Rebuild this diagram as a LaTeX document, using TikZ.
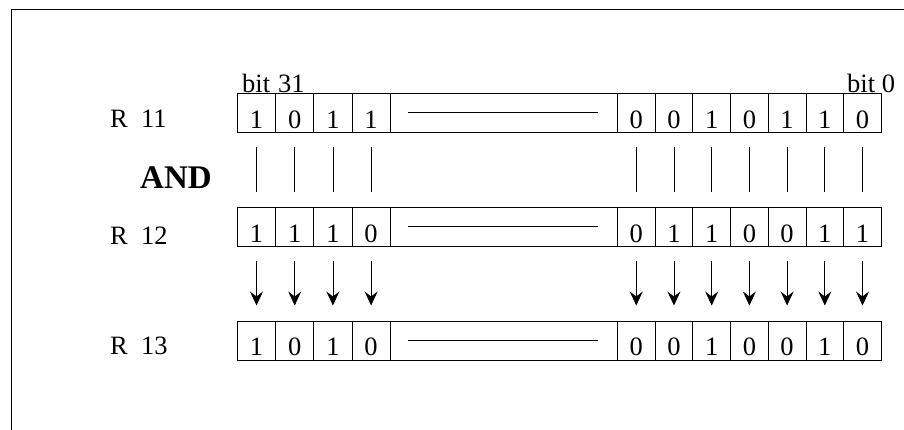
\documentclass[tikz,border=0pt]{standalone}
\usepackage{fontspec}
\setmainfont{Liberation Serif}
\usetikzlibrary{arrows.meta}
\begin{document}
\begin{tikzpicture}[x=1pt,y=-1pt,
  cellbox/.style={draw, line width=0.8pt, minimum height=39pt, inner sep=0pt,
    text height=35pt, text depth=4pt, anchor=north west,
    font=\fontsize{26.5}{30}\selectfont},
  lbl/.style={inner sep=0pt, anchor=base west, font=\fontsize{26.5}{30}\selectfont},
  andlbl/.style={inner sep=0pt, anchor=base west, font=\fontsize{33}{36}\selectfont\bfseries},
  link/.style={line width=0.8pt},
  arr/.style={line width=0.8pt, -{Stealth[length=14pt,width=13pt,inset=5pt]}},
  frame/.style={line width=1pt}]
\useasboundingbox (0,0) rectangle (904,430);
\draw[frame] (11,430) -- (11,10) -- (904,10);
\foreach \r/\ty/\bits in {1/93/{1,0,1,1,0,0,1,0,1,1,0},2/207/{1,1,1,0,0,1,1,0,0,1,1},3/320.5/{1,0,1,0,0,0,1,0,0,1,0}}{
  \foreach \v [count=\k from 0] in \bits {
    \ifnum\k<4
      \pgfmathsetmacro\cx{237+38.2*\k}
      \node[cellbox, minimum width=38.2pt] (c\r-\k) at (\cx,\ty) {\v};
    \else
      \pgfmathsetmacro\cx{617+37.71*(\k-4)}
      \node[cellbox, minimum width=37.71pt] (c\r-\k) at (\cx,\ty) {\v};
    \fi
  }
  \node[cellbox, minimum width=227pt] (m\r) at (390,\ty) {};
  \draw[link] ([xshift=17.7pt]m\r.west) -- ([xshift=-20pt]m\r.east);
}
\node[lbl] (l1) at (110,128) {R\ \ 11};
\node[lbl] (l2) at (110,244) {R\ \ 12};
\node[lbl] (l3) at (110,354) {R\ \ 13};
\node[andlbl] (and) at (140,189) {AND};
\node[lbl] (b31) at (242,93) {bit\hspace{0.3em}31};
\node[lbl] (b0) at (847,93) {bit 0};
\foreach \k in {0,...,10}{
  \draw[link] ([yshift=-14pt]c1-\k.south) -- ([yshift=15pt]c2-\k.north);
  \draw[arr] ([yshift=-14pt]c2-\k.south) -- ([yshift=15pt]c3-\k.north);
}
\end{tikzpicture}
\end{document}
